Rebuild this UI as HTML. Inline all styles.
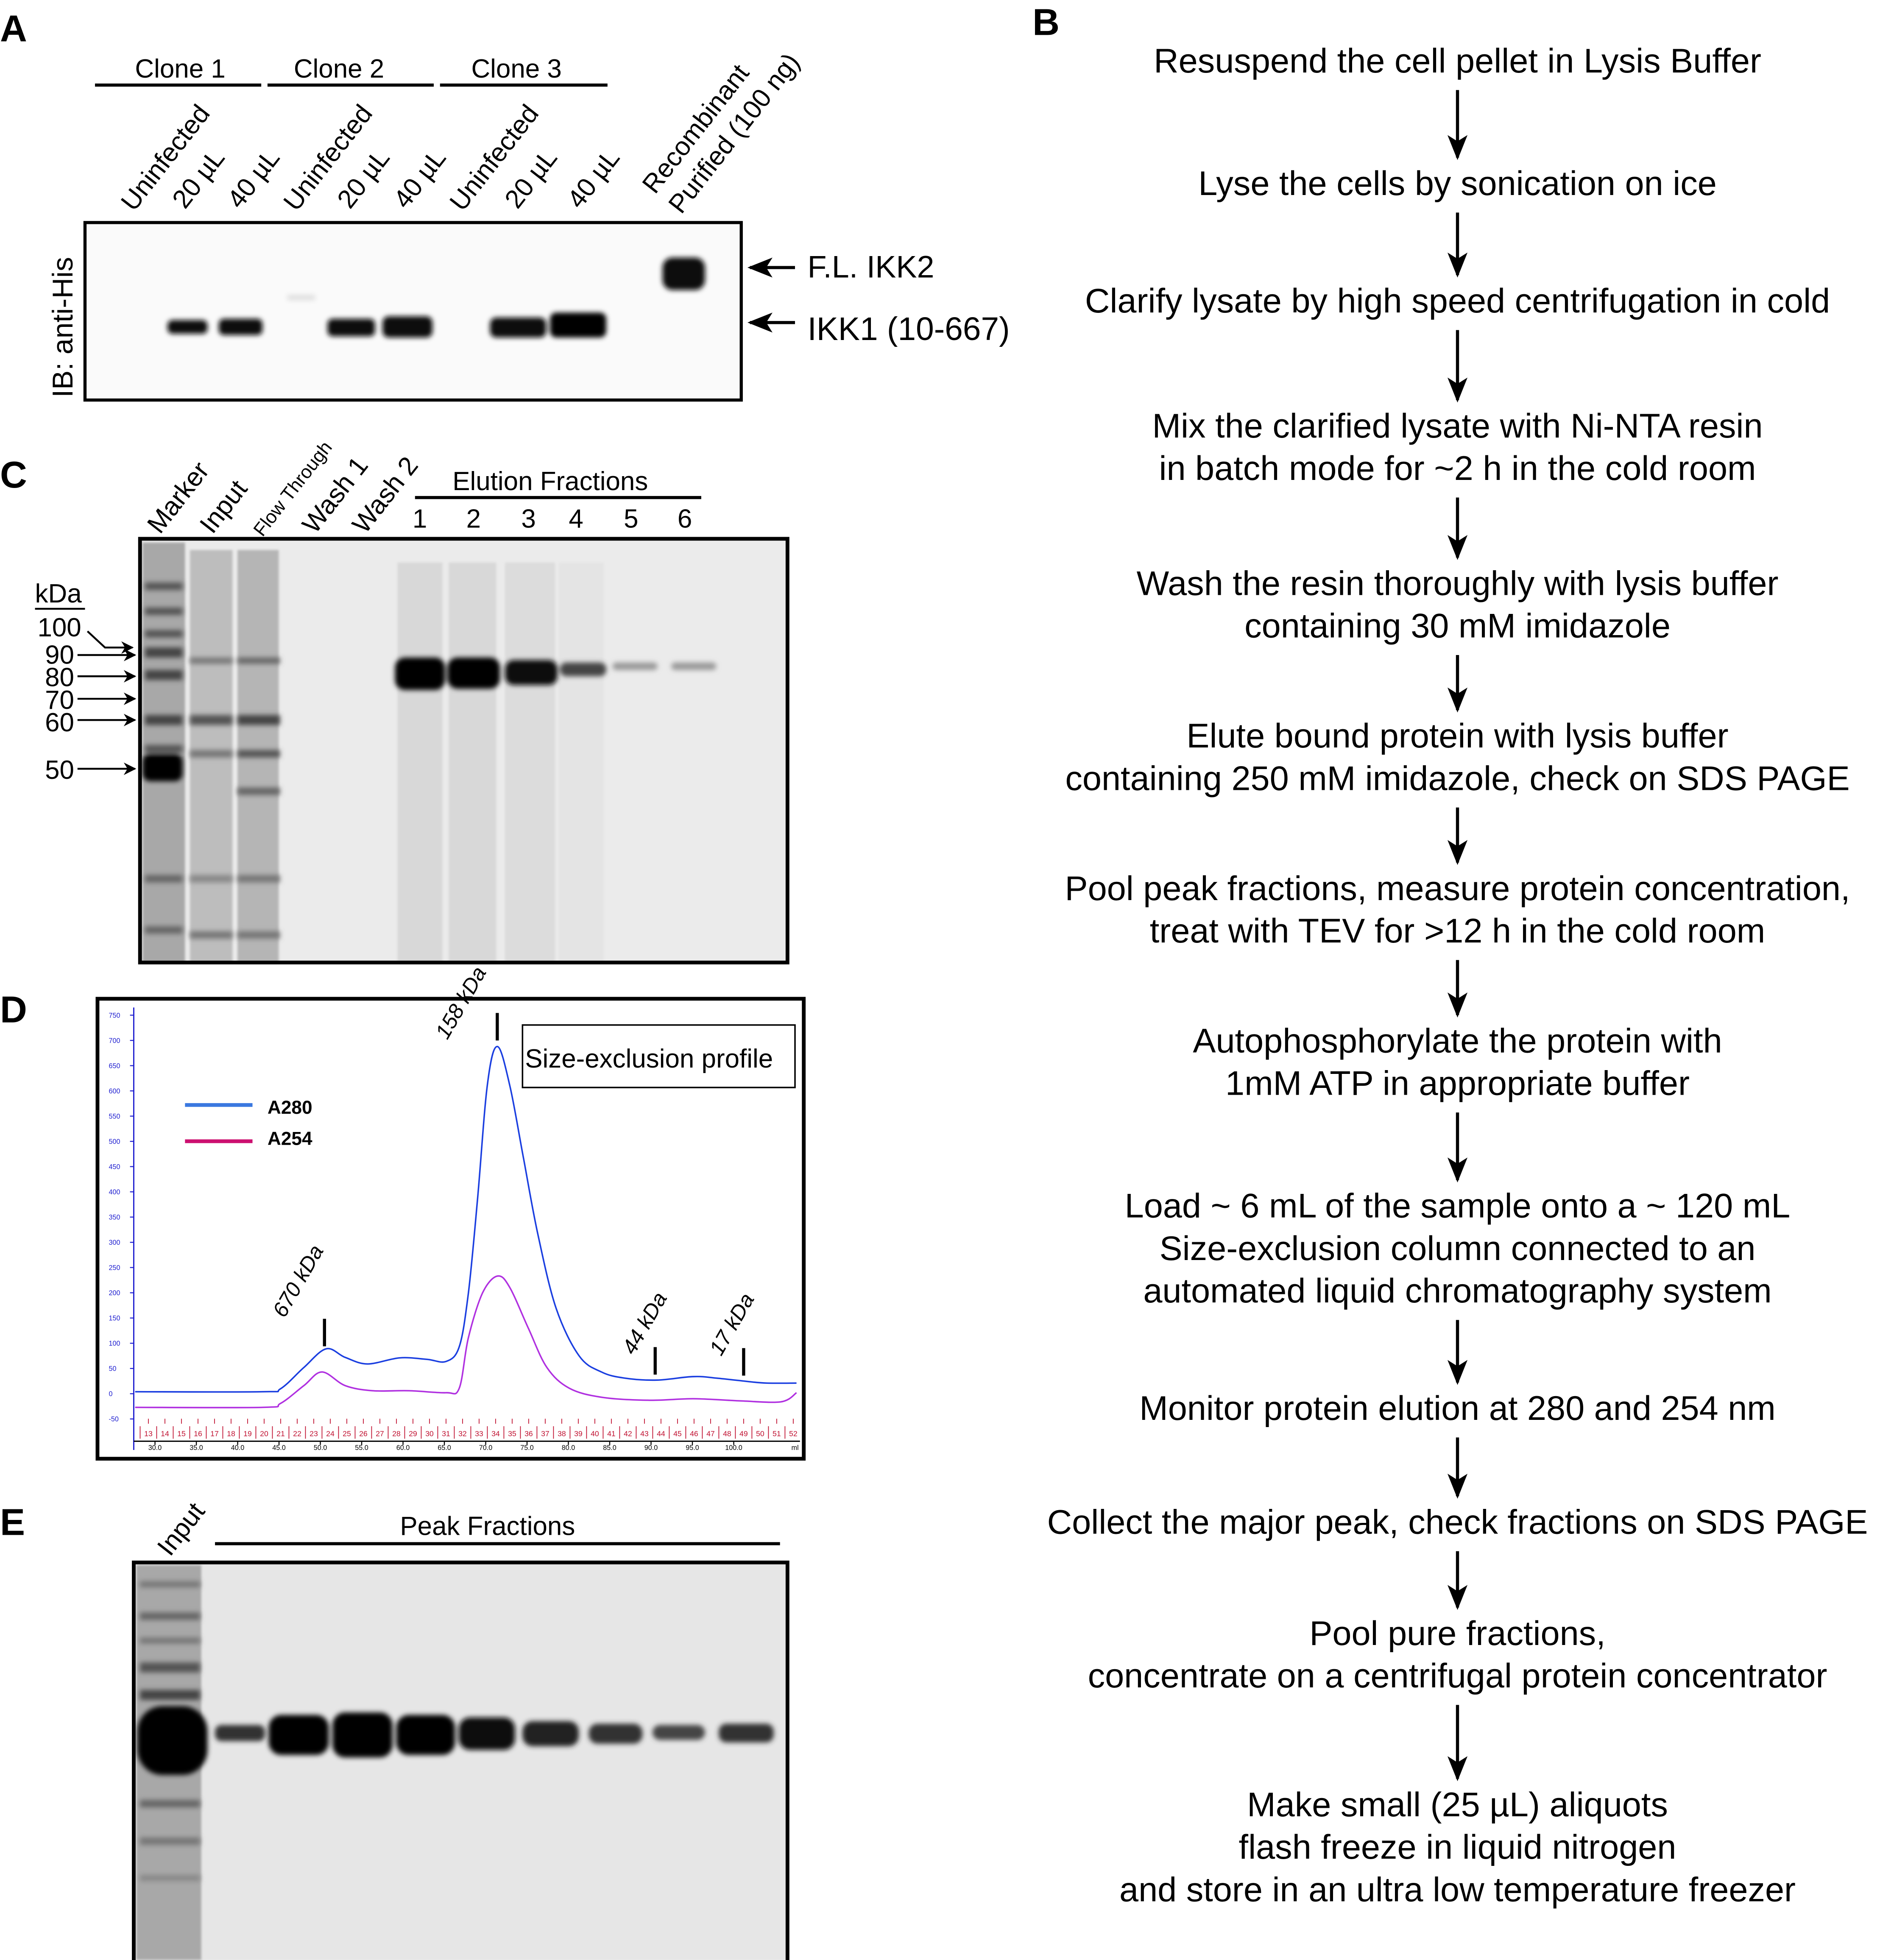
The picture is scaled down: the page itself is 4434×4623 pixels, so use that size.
<!DOCTYPE html>
<html><head><meta charset="utf-8">
<style>
html,body{margin:0;padding:0;background:#fff;}
svg{display:block;font-family:"Liberation Sans",Arial,sans-serif;}
</style></head>
<body>
<svg id="root" width="4434" height="4623" viewBox="0 0 1504 1568" xmlns="http://www.w3.org/2000/svg">
<defs>
<filter id="b1" x="-50%" y="-50%" width="200%" height="200%"><feGaussianBlur stdDeviation="2"/></filter>
<filter id="b2" x="-50%" y="-50%" width="200%" height="200%"><feGaussianBlur stdDeviation="1"/></filter>
<marker id="ah" markerWidth="10" markerHeight="10" refX="9" refY="5" orient="auto" markerUnits="userSpaceOnUse"><path d="M0,0 L10,5 L0,10 L3,5 z" fill="#000"/></marker>
<marker id="ahb" markerWidth="20" markerHeight="16" refX="18" refY="8" orient="auto" markerUnits="userSpaceOnUse"><path d="M0,0 L20,8 L0,16 L5,8 z" fill="#000"/></marker>
</defs>

<g font-weight="bold" font-size="30">
<text x="0" y="33">A</text>
<text x="826" y="28">B</text>
<text x="0" y="390">C</text>
<text x="0" y="818">D</text>
<text x="0" y="1228">E</text>
</g>

<!-- Panel A -->
<g font-size="21">
<text x="108" y="62">Clone 1</text>
<text x="235" y="62">Clone 2</text>
<text x="377" y="62">Clone 3</text>
<line x1="76" y1="68" x2="209" y2="68" stroke="#000" stroke-width="2.5"/>
<line x1="214" y1="68" x2="347" y2="68" stroke="#000" stroke-width="2.5"/>
<line x1="352" y1="68" x2="486" y2="68" stroke="#000" stroke-width="2.5"/>
<g>
<text transform="translate(107,170) rotate(-52)">Uninfected</text>
<text transform="translate(148,168) rotate(-52)">20 µL</text>
<text transform="translate(192,168) rotate(-52)">40 µL</text>
<text transform="translate(237,170) rotate(-52)">Uninfected</text>
<text transform="translate(280,168) rotate(-52)">20 µL</text>
<text transform="translate(325,168) rotate(-52)">40 µL</text>
<text transform="translate(370,170) rotate(-52)">Uninfected</text>
<text transform="translate(414,168) rotate(-52)">20 µL</text>
<text transform="translate(464,168) rotate(-52)">40 µL</text>
<text transform="translate(524,156) rotate(-52)">Recombinant</text>
<text transform="translate(545,172) rotate(-52)">Purified (100 ng)</text>
</g>
<text transform="translate(58,318) rotate(-90)" font-size="23">IB: anti-His</text>
<rect x="68" y="178" width="525" height="142" fill="#fafafa" stroke="#000" stroke-width="2.5"/>
<g filter="url(#b1)">
<rect x="134" y="256" width="32" height="11" rx="4" fill="#111"/>
<rect x="175" y="255" width="35" height="13" rx="4" fill="#111"/>
<rect x="262" y="255" width="38" height="14" rx="4" fill="#111"/>
<rect x="306" y="253" width="40" height="17" rx="5" fill="#080808"/>
<rect x="392" y="254" width="45" height="16" rx="5" fill="#080808"/>
<rect x="440" y="250" width="45" height="20" rx="5" fill="#050505"/>
<rect x="530" y="206" width="34" height="26" rx="8" fill="#111"/>
<rect x="230" y="236" width="22" height="4" fill="#ddd"/>
</g>
<line x1="636" y1="214" x2="600" y2="214" stroke="#000" stroke-width="2.5" marker-end="url(#ahb)"/>
<line x1="636" y1="258" x2="600" y2="258" stroke="#000" stroke-width="2.5" marker-end="url(#ahb)"/>
<text x="646" y="222" font-size="25">F.L. IKK2</text>
<text x="646" y="272" font-size="26">IKK1 (10-667)</text>
</g>

<!-- Panel C -->
<g font-size="21">
<g>
<text transform="translate(128,428) rotate(-52)">Marker</text>
<text transform="translate(170,428) rotate(-52)">Input</text>
<text transform="translate(210,430) rotate(-52)" font-size="15">Flow Through</text>
<text transform="translate(252,428) rotate(-52)">Wash 1</text>
<text transform="translate(292,428) rotate(-52)">Wash 2</text>
</g>
<text x="362" y="392">Elution Fractions</text>
<line x1="332" y1="398" x2="561" y2="398" stroke="#000" stroke-width="2.5"/>
<g>
<text x="330" y="422">1</text><text x="373" y="422">2</text><text x="417" y="422">3</text><text x="455" y="422">4</text><text x="499" y="422">5</text><text x="542" y="422">6</text>
</g>
<text x="28" y="482">kDa</text>
<line x1="28" y1="487" x2="68" y2="487" stroke="#000" stroke-width="1.5"/>
<g>
<text x="30" y="509">100</text><text x="36" y="531">90</text><text x="36" y="549">80</text><text x="36" y="567">70</text><text x="36" y="585">60</text><text x="36" y="623">50</text>
<polyline points="70,505 84,518 106,518" fill="none" stroke="#000" stroke-width="1.5" marker-end="url(#ah)"/>
<line x1="62" y1="524" x2="108" y2="524" stroke="#000" stroke-width="1.5" marker-end="url(#ah)"/>
<line x1="62" y1="541" x2="108" y2="541" stroke="#000" stroke-width="1.5" marker-end="url(#ah)"/>
<line x1="62" y1="559" x2="108" y2="559" stroke="#000" stroke-width="1.5" marker-end="url(#ah)"/>
<line x1="62" y1="576" x2="108" y2="576" stroke="#000" stroke-width="1.5" marker-end="url(#ah)"/>
<line x1="62" y1="615" x2="108" y2="615" stroke="#000" stroke-width="1.5" marker-end="url(#ah)"/>
</g>
<rect x="112" y="431" width="518" height="339" fill="#ebebeb"/>
<g filter="url(#b2)">
<rect x="114" y="434" width="34" height="336" fill="#a8a8a8"/>
<rect x="152" y="440" width="34" height="330" fill="#bdbdbd"/>
<rect x="190" y="440" width="33" height="330" fill="#b5b5b5"/>
<rect x="318" y="450" width="36" height="320" fill="#d8d8d8"/>
<rect x="359" y="450" width="38" height="320" fill="#d8d8d8"/>
<rect x="404" y="450" width="40" height="320" fill="#dcdcdc"/>
<rect x="447" y="450" width="36" height="320" fill="#e4e4e4"/>
</g>
<g filter="url(#b1)">
<rect x="116" y="466" width="30" height="6" fill="#555"/><rect x="116" y="486" width="30" height="6" fill="#555"/>
<rect x="116" y="504" width="30" height="6" fill="#555"/><rect x="116" y="518" width="30" height="8" fill="#444"/>
<rect x="116" y="536" width="30" height="8" fill="#444"/><rect x="116" y="572" width="30" height="8" fill="#444"/>
<rect x="116" y="596" width="30" height="6" fill="#555"/><rect x="114" y="603" width="32" height="22" rx="6" fill="#000"/>
<rect x="116" y="700" width="30" height="6" fill="#666"/><rect x="116" y="741" width="30" height="6" fill="#666"/>
<rect x="152" y="572" width="34" height="8" fill="#555"/><rect x="190" y="572" width="34" height="8" fill="#444"/>
<rect x="152" y="526" width="34" height="5" fill="#777"/><rect x="190" y="526" width="34" height="5" fill="#666"/>
<rect x="152" y="600" width="34" height="6" fill="#777"/><rect x="190" y="600" width="34" height="6" fill="#555"/>
<rect x="190" y="630" width="34" height="6" fill="#666"/><rect x="152" y="700" width="34" height="6" fill="#888"/>
<rect x="190" y="700" width="34" height="6" fill="#777"/><rect x="152" y="745" width="34" height="6" fill="#777"/><rect x="190" y="745" width="34" height="6" fill="#777"/>
<rect x="316" y="526" width="40" height="26" rx="8" fill="#000"/>
<rect x="358" y="526" width="42" height="25" rx="8" fill="#000"/>
<rect x="404" y="528" width="42" height="20" rx="7" fill="#111"/>
<rect x="448" y="530" width="37" height="11" rx="5" fill="#444"/>
<rect x="490" y="530" width="36" height="6" rx="3" fill="#999"/>
<rect x="537" y="530" width="36" height="6" rx="3" fill="#999"/>
</g>
<rect x="112" y="431" width="518" height="339" fill="none" stroke="#000" stroke-width="3"/>
</g>

<!-- Panel D chart -->
<g id="chartD">
<rect x="78" y="799" width="565" height="368" fill="#fff" stroke="#000" stroke-width="3"/>
<g id="axes"></g>
<g id="series"></g>
<rect x="418" y="820" width="218" height="50" fill="#fff" stroke="#000" stroke-width="1.2"/>
<text x="420" y="854" font-size="21">Size-exclusion profile</text>
<line x1="148" y1="884" x2="202" y2="884" stroke="#3a78e0" stroke-width="3"/>
<text x="214" y="891" font-size="15" font-weight="bold">A280</text>
<line x1="148" y1="913" x2="202" y2="913" stroke="#cc1070" stroke-width="3"/>
<text x="214" y="916" font-size="15" font-weight="bold">A254</text>
<g id="annots"></g>
</g>

<!-- Panel E -->
<g>
<text transform="translate(136,1246) rotate(-52)" font-size="21">Input</text>
<text x="320" y="1228" font-size="21">Peak Fractions</text>
<line x1="172" y1="1235" x2="624" y2="1235" stroke="#000" stroke-width="2.5"/>
<rect x="107" y="1250" width="523" height="318" fill="#e6e6e6"/>
<g filter="url(#b2)">
<rect x="109" y="1252" width="52" height="316" fill="#a8a8a8"/>
</g>
<g filter="url(#b1)">
<rect x="112" y="1290" width="48" height="6" fill="#666"/><rect x="112" y="1330" width="48" height="8" fill="#555"/>
<rect x="112" y="1352" width="48" height="8" fill="#444"/><rect x="110" y="1365" width="56" height="55" rx="20" fill="#000"/>
<rect x="112" y="1440" width="48" height="6" fill="#666"/><rect x="112" y="1470" width="48" height="6" fill="#777"/>
<rect x="112" y="1265" width="48" height="5" fill="#777"/><rect x="112" y="1310" width="48" height="5" fill="#777"/>
<rect x="112" y="1500" width="48" height="5" fill="#888"/>
<rect x="172" y="1380" width="40" height="13" rx="5" fill="#333"/>
<rect x="215" y="1372" width="48" height="32" rx="10" fill="#050505"/>
<rect x="266" y="1370" width="48" height="36" rx="10" fill="#000"/>
<rect x="317" y="1372" width="47" height="32" rx="10" fill="#050505"/>
<rect x="367" y="1374" width="45" height="26" rx="9" fill="#111"/>
<rect x="418" y="1377" width="45" height="20" rx="8" fill="#222"/>
<rect x="471" y="1379" width="43" height="16" rx="7" fill="#333"/>
<rect x="522" y="1380" width="42" height="12" rx="6" fill="#444"/>
<rect x="575" y="1379" width="44" height="15" rx="6" fill="#333"/>
</g>
<rect x="107" y="1250" width="523" height="330" fill="none" stroke="#000" stroke-width="3"/>
</g>

<g id="flow" font-size="27.5" text-anchor="middle"></g>
</svg>

<script>
// ---- Chart D data ----
const a280Ml = [27.6,43,45.2,48,50.7,53,55.7,59.6,62.9,65.2,66.8,67.9,69,70.2,71.4,72.9,74.6,76.3,78.5,81.3,84,86.8,90.7,95.1,97.9,101.8,104,107.6];
const a280Val = [4,4,10,52,89,72,59,71,68,64,93,199,382,612,688,612,464,317,170,75,43,31,27,34,31,24,21,21];
const a254Ml = [27.6,43,45.2,48,50.2,53,56.3,60.7,65.2,66.8,67.9,69.6,71.4,72.9,75.2,77.4,80.1,84,89.6,95.1,100.7,105.7,107.6];
const a254Val = [-27,-27,-19,16,43,16,6,6,2,11,111,199,233,211,128,52,11,-7,-13,-10,-14,-16,2];
const yTicks = [-50,0,50,100,150,200,250,300,350,400,450,500,550,600,650,700,750];
const xTicks = [30,35,40,45,50,55,60,65,70,75,80,85,90,95,100];
const fractions = [13,14,15,16,17,18,19,20,21,22,23,24,25,26,27,28,29,30,31,32,33,34,35,36,37,38,39,40,41,42,43,44,45,46,47,48,49,50,51,52];
const markerLabels = ["670 kDa","158 kDa","44 kDa","17 kDa"];
const markerMl = [50.5,71.4,90.5,101.2];
const markerTop = [84,690,28,26];

const NS="http://www.w3.org/2000/svg";
function X(ml){return 124+(ml-30)*6.614;}
function Y(v){return 1115-v*0.4038;}
function mk(tag,attrs,parent){const e=document.createElementNS(NS,tag);for(const k in attrs)e.setAttribute(k,attrs[k]);parent.appendChild(e);return e;}
const axes=document.getElementById('axes');
let e=mk('line',{x1:107,y1:806,x2:107,y2:1160,stroke:'#2020d0','stroke-width':1},axes);


e=mk('line',{x1:107,y1:1153,x2:640,y2:1153,stroke:'#000','stroke-width':1},axes);


yTicks.forEach(v=>{
  mk('line',{x1:104,y1:Y(v),x2:107,y2:Y(v),stroke:'#2020d0','stroke-width':0.8},axes);
  const t=mk('text',{x:87,y:Y(v)+2,'font-size':5.5,fill:'#2020d0'},axes);t.textContent=v;
  
  
});
xTicks.forEach(v=>{
  mk('line',{x1:X(v),y1:1153,x2:X(v),y2:1156,stroke:'#000','stroke-width':0.8},axes);
  const t=mk('text',{x:X(v),y:1160,'font-size':5.5,'text-anchor':'middle'},axes);t.textContent=v.toFixed(1);
  
  
});
let mlT=mk('text',{x:636,y:1160,'font-size':5.5,'text-anchor':'middle'},axes);mlT.textContent='ml';
fractions.forEach((f,i)=>{
  const ml=28.2+2*i;
  mk('line',{x1:X(ml),y1:1141,x2:X(ml),y2:1151,stroke:'#c01030','stroke-width':0.6},axes);
  mk('line',{x1:X(ml+1),y1:1135,x2:X(ml+1),y2:1139,stroke:'#c01030','stroke-width':0.6},axes);
  const t=mk('text',{x:X(ml+1),y:1149,'font-size':6,fill:'#c01030','text-anchor':'middle'},axes);t.textContent=f;
  
  
});
const series=document.getElementById('series');
function path(mls,vals){
  const pts=mls.map((m,i)=>[X(m),Y(vals[i])]);
  let d='M'+pts[0][0].toFixed(1)+','+pts[0][1].toFixed(1);
  for(let i=0;i<pts.length-1;i++){
    const p0=pts[i-1]||pts[i],p1=pts[i],p2=pts[i+1],p3=pts[i+2]||p2;
    const c1=[p1[0]+(p2[0]-p0[0])/6,p1[1]+(p2[1]-p0[1])/6];
    const c2=[p2[0]-(p3[0]-p1[0])/6,p2[1]-(p3[1]-p1[1])/6];
    d+=` C${c1[0].toFixed(1)},${c1[1].toFixed(1)} ${c2[0].toFixed(1)},${c2[1].toFixed(1)} ${p2[0].toFixed(1)},${p2[1].toFixed(1)}`;
  }
  return d;
}
let p=mk('path',{d:path(a280Ml,a280Val),fill:'none',stroke:'#1a3ee0','stroke-width':1.2,'stroke-linejoin':'round'},series);


p=mk('path',{d:path(a254Ml,a254Val),fill:'none',stroke:'#b030e0','stroke-width':1.2,'stroke-linejoin':'round'},series);


const ann=document.getElementById('annots');
// label placement offsets relative to tick (layout only)
const labelDx=[-32,-40,-17,-18], labelDy=[-22,0,-15,-15];
markerLabels.forEach((lab,i)=>{
  const x=X(markerMl[i]), yb=Y(markerTop[i])-4;
  const l=mk('line',{x1:x,y1:yb,x2:x,y2:yb-22,stroke:'#000','stroke-width':2.5},ann);
  
  
  const t=mk('text',{transform:`translate(${x+labelDx[i]},${yb+labelDy[i]}) rotate(-60)`,'font-size':17,'font-style':'italic'},ann);t.textContent=lab;
  
  
});

// ---- Flowchart B ----
const steps=[
 [["Resuspend the cell pellet in Lysis Buffer"],58],
 [["Lyse the cells by sonication on ice"],156],
 [["Clarify lysate by high speed centrifugation in cold"],250],
 [["Mix the clarified lysate with Ni-NTA resin","in batch mode for ~2 h in the cold room"],350],
 [["Wash the resin thoroughly with lysis buffer","containing 30 mM imidazole"],476],
 [["Elute bound protein with lysis buffer","containing 250 mM imidazole, check on SDS PAGE"],598],
 [["Pool peak fractions, measure protein concentration,","treat with TEV for >12 h in the cold room"],720],
 [["Autophosphorylate the protein with","1mM ATP in appropriate buffer"],842],
 [["Load ~ 6 mL of the sample onto a ~ 120 mL","Size-exclusion column connected to an","automated liquid chromatography system"],974],
 [["Monitor protein elution at 280 and 254 nm"],1136],
 [["Collect the major peak, check fractions on SDS PAGE"],1227],
 [["Pool pure fractions,","concentrate on a centrifugal protein concentrator"],1316],
 [["Make small (25 µL) aliquots","flash freeze in liquid nitrogen","and store in an ultra low temperature freezer"],1453]
];
const flow=document.getElementById('flow');
steps.forEach((s,i)=>{
  s[0].forEach((line,j)=>{
    const t=mk('text',{x:1166,y:s[1]+j*34},flow);t.textContent=line;
    
    
  });
  if(i<steps.length-1){
    const yStart=s[1]+(s[0].length-1)*34+14, yEnd=steps[i+1][1]-30;
    const a=mk('line',{x1:1166,y1:yStart,x2:1166,y2:yEnd,stroke:'#000','stroke-width':2.5,'marker-end':'url(#ahb)'},flow);
    
    
  }
});
</script>
</body></html>
